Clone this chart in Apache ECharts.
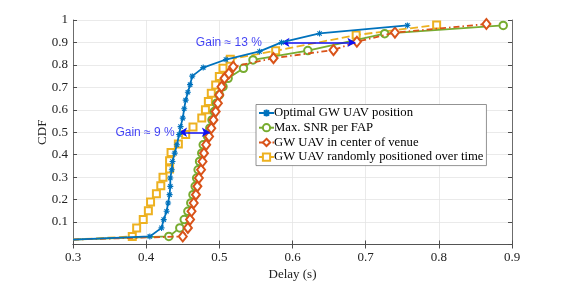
<!DOCTYPE html>
<html><head><meta charset="utf-8">
<script src="https://cdn.jsdelivr.net/npm/echarts@6/dist/echarts.min.js"></script>
<style>html,body{margin:0;padding:0;background:#fff}#c{width:565px;height:283px}</style>
</head><body><div id="c"></div>
<script>
const seriesNames = ['Optimal GW UAV position','Max. SNR per FAP','GW UAV in center of venue','GW UAV randomly positioned over time'];
const xTicks = [0.3,0.4,0.5,0.6,0.7,0.8,0.9];
const yTicks = [0.1,0.2,0.3,0.4,0.5,0.6,0.7,0.8,0.9,1];
const startTail = [0.3,0.022];
const optimal = [[0.405,0.036],[0.421,0.074],[0.424,0.111],[0.428,0.148],[0.430,0.185],[0.432,0.222],[0.433,0.259],[0.433,0.296],[0.435,0.333],[0.436,0.370],[0.439,0.407],[0.442,0.444],[0.445,0.490],[0.447,0.525],[0.450,0.563],[0.452,0.605],[0.454,0.643],[0.457,0.678],[0.460,0.712],[0.463,0.750],[0.478,0.788],[0.509,0.824],[0.555,0.860],[0.585,0.900],[0.637,0.940],[0.757,0.976]];
const maxSnr = [[0.431,0.036],[0.446,0.074],[0.452,0.111],[0.457,0.148],[0.461,0.185],[0.464,0.222],[0.467,0.259],[0.469,0.296],[0.471,0.333],[0.473,0.370],[0.476,0.407],[0.478,0.444],[0.484,0.481],[0.487,0.518],[0.490,0.555],[0.493,0.592],[0.496,0.629],[0.500,0.666],[0.505,0.703],[0.512,0.740],[0.533,0.785],[0.546,0.822],[0.621,0.864],[0.726,0.939],[0.888,0.976]];
const center = [[0.450,0.036],[0.457,0.074],[0.460,0.111],[0.462,0.148],[0.465,0.185],[0.468,0.222],[0.470,0.259],[0.472,0.296],[0.475,0.333],[0.477,0.370],[0.479,0.407],[0.482,0.444],[0.486,0.481],[0.489,0.518],[0.492,0.555],[0.495,0.592],[0.498,0.629],[0.500,0.666],[0.503,0.703],[0.507,0.740],[0.513,0.762],[0.519,0.792],[0.574,0.830],[0.656,0.866],[0.688,0.903],[0.740,0.944],[0.865,0.982]];
const random = [[0.381,0.036],[0.387,0.074],[0.396,0.111],[0.403,0.150],[0.406,0.189],[0.414,0.226],[0.420,0.262],[0.423,0.300],[0.432,0.336],[0.432,0.373],[0.434,0.410],[0.444,0.448],[0.454,0.490],[0.464,0.523],[0.476,0.563],[0.481,0.600],[0.485,0.637],[0.489,0.674],[0.495,0.711],[0.500,0.748],[0.505,0.785],[0.515,0.825],[0.577,0.863],[0.687,0.933],[0.797,0.978]];
const gain9 = {text:'Gain ≈ 9 %', label:[0.3985,0.497], from:[0.445,0.5], to:[0.487,0.5]};
const gain13 = {text:'Gain ≈ 13 %', label:[0.513,0.899], from:[0.585,0.9], to:[0.686,0.9]};

const colors = ['#0072BD','#77AC30','#D95319','#EDB120'];
const serif = "'Liberation Serif','Times New Roman',serif";
const withTail = d => [{value:startTail, symbol:'none'}].concat(d);
const star = 'path://M0,-5L0,5M-5,0L5,0M-3.6,-3.6L3.6,3.6M-3.6,3.6L3.6,-3.6';
const annBlue = '#1010f2';

const chart = echarts.init(document.getElementById('c'));
const option = {
  animation:false,
  color:colors,
  grid:{left:73,right:53,top:20,bottom:38.5,outerBoundsMode:'none',containLabel:false},
  legend:{
    orient:'vertical', left:256, top:104.5, itemGap:1.7, itemWidth:15, itemHeight:9,
    padding:[2,3,2,2], backgroundColor:'#fff', borderColor:'#777', borderWidth:0.8,
    textStyle:{fontFamily:serif,fontSize:12.7,color:'#000',padding:[0,0,0,-5]},
    data:seriesNames
  },
  xAxis:[{
    type:'value', min:0.3, max:0.9, interval:0.1,
    name:'Delay (s)', nameLocation:'middle', nameGap:24, nameMoveOverlap:false,
    nameTextStyle:{fontFamily:serif,fontSize:13,color:'#222'},
    axisLine:{lineStyle:{color:'#4d4d4d',width:0.8}},
    axisTick:{inside:true,length:4,lineStyle:{color:'#4d4d4d'}},
    axisLabel:{fontFamily:serif,fontSize:13,color:'#222',margin:7,formatter:v=>xTicks.some(t=>Math.abs(t-v)<1e-6)?String(Math.round(v*10)/10):''},
    splitLine:{show:true,lineStyle:{color:'#e5e5e5',width:0.8}}
  },{
    type:'value', min:0.3, max:0.9, interval:0.1, position:'top',
    axisLine:{show:true,lineStyle:{color:'#4d4d4d',width:0.8}},
    axisTick:{show:true,inside:true,length:4,lineStyle:{color:'#4d4d4d'}},
    axisLabel:{show:false}, splitLine:{show:false}
  }],
  yAxis:[{
    type:'value', min:0, max:1, interval:0.1,
    name:'CDF', nameLocation:'middle', nameGap:24, nameMoveOverlap:false,
    nameTextStyle:{fontFamily:serif,fontSize:13,color:'#222'},
    axisLine:{show:true,lineStyle:{color:'#4d4d4d',width:0.8}},
    axisTick:{show:true,inside:true,length:4,lineStyle:{color:'#4d4d4d'}},
    axisLabel:{fontFamily:serif,fontSize:13,color:'#222',margin:5,
      formatter:v=>{const t=yTicks.find(t=>Math.abs(t-v)<1e-6); return t===undefined?'':String(t);}},
    splitLine:{show:true,lineStyle:{color:'#e5e5e5',width:0.8}}
  },{
    type:'value', min:0, max:1, interval:0.1, position:'right',
    axisLine:{show:true,lineStyle:{color:'#4d4d4d',width:0.8}},
    axisTick:{show:true,inside:true,length:4,lineStyle:{color:'#4d4d4d'}},
    axisLabel:{show:false}, splitLine:{show:false}
  }],
  series:[
    {name:seriesNames[0], type:'line', data:withTail(optimal), symbol:star, symbolSize:6,
     itemStyle:{color:colors[0],borderColor:colors[0],borderWidth:1.1},
     lineStyle:{width:1.8,color:colors[0]}, z:5},
    {name:seriesNames[1], type:'line', data:withTail(maxSnr), symbol:'emptyCircle', symbolSize:7.5,
     itemStyle:{color:colors[1],borderColor:colors[1],borderWidth:1.6},
     lineStyle:{width:1.8,color:colors[1]}, z:3},
    {name:seriesNames[2], type:'line', data:withTail(center), symbol:'emptyDiamond', symbolSize:[8,10],
     itemStyle:{color:colors[2],borderColor:colors[2],borderWidth:1.6},
     lineStyle:{width:1.8,color:colors[2],type:[6,3,1.5,3]}, z:4},
    {name:seriesNames[3], type:'line', data:withTail(random), symbol:'emptyRect', symbolSize:7,
     itemStyle:{color:colors[3],borderColor:colors[3],borderWidth:1.6},
     lineStyle:{width:1.8,color:colors[3],type:[8,3.5]}, z:2},
    {name:'annot', type:'scatter', data:[gain9.label,gain13.label], symbolSize:0, silent:true, z:10,
     label:{show:true,position:'inside',color:annBlue,fontFamily:"'Liberation Sans',Arial,sans-serif",fontSize:12,
       formatter:p=>p.dataIndex===0?gain9.text:gain13.text},
     markLine:{silent:true, symbol:['arrow','arrow'], symbolSize:[7,8], label:{show:false},
      lineStyle:{color:annBlue,width:1.5,type:'solid'},
      data:[[{coord:gain9.from},{coord:gain9.to}],[{coord:gain13.from},{coord:gain13.to}]]}}
  ]
};
chart.setOption(option);
</script></body></html>
